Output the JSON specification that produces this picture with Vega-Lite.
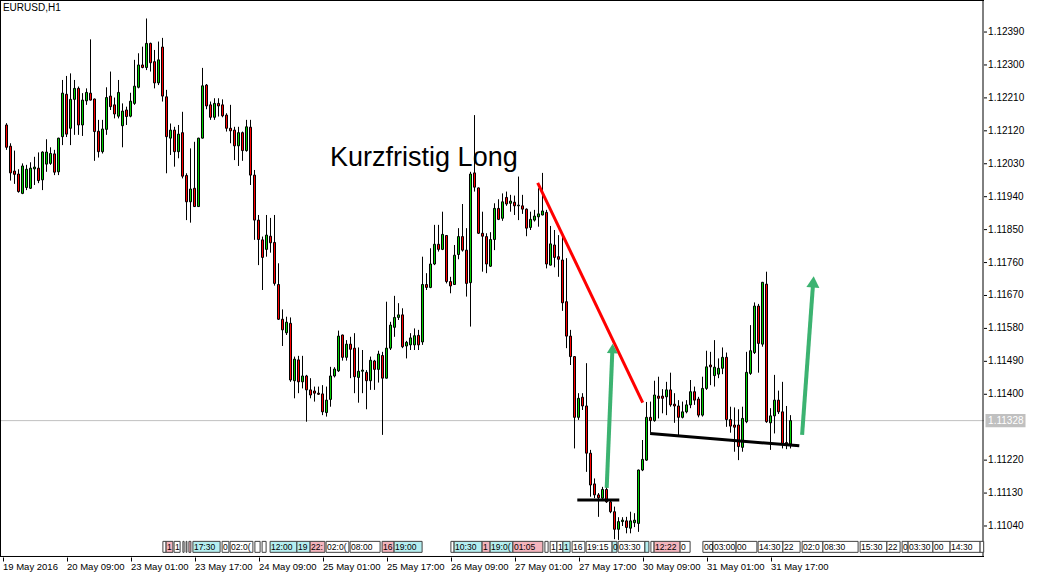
{
"$schema": "https://vega.github.io/schema/vega-lite/v6.json",
"width": 984,
"height": 557,
"autosize": {"type": "none"},
"padding": {"left": 0, "top": 0, "right": 55, "bottom": 21},
"background": "white",
"config": {
  "view": {"stroke": null},
  "font": "Liberation Sans",
  "scale": {"continuousPadding": 0},
  "axis": {"labelFont": "Liberation Sans", "labelColor": "#000000", "tickColor": "#000000", "domain": false, "grid": false, "labelOverlap": false}
},
"datasets": {
"candles": [
{"t":0,"o":1.12136,"h":1.12141,"l":1.12068,"c":1.12075},
{"t":1,"o":1.12078,"h":1.12086,"l":1.11984,"c":1.12005},
{"t":2,"o":1.12010,"h":1.12066,"l":1.11975,"c":1.12001},
{"t":3,"o":1.12002,"h":1.12015,"l":1.11951,"c":1.11954},
{"t":4,"o":1.11949,"h":1.12031,"l":1.11947,"c":1.12024},
{"t":5,"o":1.11965,"h":1.12027,"l":1.11958,"c":1.12015},
{"t":6,"o":1.11963,"h":1.12034,"l":1.11961,"c":1.12018},
{"t":7,"o":1.12016,"h":1.12049,"l":1.11972,"c":1.12021},
{"t":8,"o":1.12018,"h":1.12061,"l":1.11977,"c":1.11984},
{"t":9,"o":1.11986,"h":1.12064,"l":1.11958,"c":1.12062},
{"t":10,"o":1.12029,"h":1.12097,"l":1.12008,"c":1.12062},
{"t":11,"o":1.12031,"h":1.12075,"l":1.12027,"c":1.12058},
{"t":12,"o":1.12057,"h":1.12068,"l":1.11999,"c":1.12007},
{"t":13,"o":1.12008,"h":1.12101,"l":1.11999,"c":1.12100},
{"t":14,"o":1.12104,"h":1.12259,"l":1.12081,"c":1.12223},
{"t":15,"o":1.12220,"h":1.12270,"l":1.12103,"c":1.12111},
{"t":16,"o":1.12127,"h":1.12277,"l":1.12081,"c":1.12206},
{"t":17,"o":1.12206,"h":1.12259,"l":1.12109,"c":1.12236},
{"t":18,"o":1.12236,"h":1.12241,"l":1.12109,"c":1.12136},
{"t":19,"o":1.12136,"h":1.12223,"l":1.12106,"c":1.12204},
{"t":20,"o":1.12202,"h":1.12236,"l":1.12191,"c":1.12225},
{"t":21,"o":1.12223,"h":1.12370,"l":1.12203,"c":1.12204},
{"t":22,"o":1.12207,"h":1.12208,"l":1.12038,"c":1.12118},
{"t":23,"o":1.12119,"h":1.12150,"l":1.12047,"c":1.12063},
{"t":24,"o":1.12063,"h":1.12150,"l":1.12058,"c":1.12125},
{"t":25,"o":1.12124,"h":1.12239,"l":1.12109,"c":1.12211},
{"t":26,"o":1.12215,"h":1.12282,"l":1.12177,"c":1.12186},
{"t":27,"o":1.12191,"h":1.12211,"l":1.12154,"c":1.12166},
{"t":28,"o":1.12160,"h":1.12259,"l":1.12154,"c":1.12225},
{"t":29,"o":1.12134,"h":1.12195,"l":1.12075,"c":1.12174},
{"t":30,"o":1.12177,"h":1.12186,"l":1.12136,"c":1.12159},
{"t":31,"o":1.12160,"h":1.12224,"l":1.12157,"c":1.12201},
{"t":32,"o":1.12195,"h":1.12314,"l":1.12191,"c":1.12242},
{"t":33,"o":1.12239,"h":1.12332,"l":1.12236,"c":1.12300},
{"t":34,"o":1.12300,"h":1.12350,"l":1.12291,"c":1.12293},
{"t":35,"o":1.12293,"h":1.12427,"l":1.12286,"c":1.12359},
{"t":36,"o":1.12359,"h":1.12361,"l":1.12282,"c":1.12306},
{"t":37,"o":1.12309,"h":1.12341,"l":1.12236,"c":1.12251},
{"t":38,"o":1.12251,"h":1.12364,"l":1.12245,"c":1.12314},
{"t":39,"o":1.12349,"h":1.12374,"l":1.12200,"c":1.12215},
{"t":40,"o":1.12213,"h":1.12232,"l":1.12004,"c":1.12104},
{"t":41,"o":1.12100,"h":1.12140,"l":1.12054,"c":1.12122},
{"t":42,"o":1.12122,"h":1.12131,"l":1.12022,"c":1.12063},
{"t":43,"o":1.12063,"h":1.12136,"l":1.12045,"c":1.12111},
{"t":44,"o":1.12115,"h":1.12172,"l":1.11990,"c":1.11996},
{"t":45,"o":1.11998,"h":1.12004,"l":1.11876,"c":1.11926},
{"t":46,"o":1.11926,"h":1.12072,"l":1.11869,"c":1.11961},
{"t":47,"o":1.11963,"h":1.12090,"l":1.11912,"c":1.11913},
{"t":48,"o":1.11913,"h":1.12101,"l":1.11912,"c":1.12100},
{"t":49,"o":1.12100,"h":1.12292,"l":1.12099,"c":1.12243},
{"t":50,"o":1.12245,"h":1.12248,"l":1.12179,"c":1.12188},
{"t":51,"o":1.12191,"h":1.12200,"l":1.12150,"c":1.12157},
{"t":52,"o":1.12157,"h":1.12209,"l":1.12150,"c":1.12195},
{"t":53,"o":1.12195,"h":1.12209,"l":1.12159,"c":1.12188},
{"t":54,"o":1.12191,"h":1.12206,"l":1.12157,"c":1.12161},
{"t":55,"o":1.12163,"h":1.12168,"l":1.12118,"c":1.12127},
{"t":56,"o":1.12127,"h":1.12191,"l":1.12086,"c":1.12120},
{"t":57,"o":1.12122,"h":1.12131,"l":1.12040,"c":1.12079},
{"t":58,"o":1.12079,"h":1.12131,"l":1.12024,"c":1.12115},
{"t":59,"o":1.12115,"h":1.12118,"l":1.12038,"c":1.12066},
{"t":60,"o":1.12066,"h":1.12150,"l":1.12063,"c":1.12131},
{"t":61,"o":1.12130,"h":1.12150,"l":1.11972,"c":1.11999},
{"t":62,"o":1.11999,"h":1.12013,"l":1.11822,"c":1.11876},
{"t":63,"o":1.11876,"h":1.11890,"l":1.11753,"c":1.11823},
{"t":64,"o":1.11822,"h":1.11831,"l":1.11685,"c":1.11774},
{"t":65,"o":1.11796,"h":1.11890,"l":1.11776,"c":1.11835},
{"t":66,"o":1.11832,"h":1.11882,"l":1.11787,"c":1.11814},
{"t":67,"o":1.11815,"h":1.11890,"l":1.11697,"c":1.11703},
{"t":68,"o":1.11700,"h":1.11758,"l":1.11603,"c":1.11605},
{"t":69,"o":1.11605,"h":1.11632,"l":1.11532,"c":1.11576},
{"t":70,"o":1.11568,"h":1.11612,"l":1.11562,"c":1.11597},
{"t":71,"o":1.11594,"h":1.11610,"l":1.11434,"c":1.11439},
{"t":72,"o":1.11437,"h":1.11503,"l":1.11389,"c":1.11496},
{"t":73,"o":1.11494,"h":1.11505,"l":1.11403,"c":1.11434},
{"t":74,"o":1.11434,"h":1.11505,"l":1.11416,"c":1.11450},
{"t":75,"o":1.11450,"h":1.11453,"l":1.11325,"c":1.11412},
{"t":76,"o":1.11412,"h":1.11444,"l":1.11389,"c":1.11398},
{"t":77,"o":1.11409,"h":1.11421,"l":1.11380,"c":1.11403},
{"t":78,"o":1.11403,"h":1.11421,"l":1.11398,"c":1.11400},
{"t":79,"o":1.11401,"h":1.11425,"l":1.11343,"c":1.11352},
{"t":80,"o":1.11350,"h":1.11421,"l":1.11339,"c":1.11384},
{"t":81,"o":1.11386,"h":1.11475,"l":1.11366,"c":1.11450},
{"t":82,"o":1.11450,"h":1.11474,"l":1.11446,"c":1.11469},
{"t":83,"o":1.11464,"h":1.11574,"l":1.11461,"c":1.11559},
{"t":84,"o":1.11562,"h":1.11563,"l":1.11492,"c":1.11501},
{"t":85,"o":1.11501,"h":1.11548,"l":1.11492,"c":1.11537},
{"t":86,"o":1.11537,"h":1.11557,"l":1.11444,"c":1.11523},
{"t":87,"o":1.11526,"h":1.11567,"l":1.11403,"c":1.11448},
{"t":88,"o":1.11446,"h":1.11528,"l":1.11377,"c":1.11463},
{"t":89,"o":1.11463,"h":1.11521,"l":1.11403,"c":1.11466},
{"t":90,"o":1.11460,"h":1.11466,"l":1.11359,"c":1.11437},
{"t":91,"o":1.11437,"h":1.11503,"l":1.11412,"c":1.11493},
{"t":92,"o":1.11491,"h":1.11494,"l":1.11412,"c":1.11468},
{"t":93,"o":1.11468,"h":1.11519,"l":1.11432,"c":1.11510},
{"t":94,"o":1.11506,"h":1.11516,"l":1.11289,"c":1.11444},
{"t":95,"o":1.11444,"h":1.11653,"l":1.11443,"c":1.11526},
{"t":96,"o":1.11526,"h":1.11598,"l":1.11521,"c":1.11589},
{"t":97,"o":1.11583,"h":1.11669,"l":1.11557,"c":1.11610},
{"t":98,"o":1.11610,"h":1.11649,"l":1.11603,"c":1.11617},
{"t":99,"o":1.11617,"h":1.11635,"l":1.11526,"c":1.11530},
{"t":100,"o":1.11532,"h":1.11546,"l":1.11498,"c":1.11542},
{"t":101,"o":1.11535,"h":1.11567,"l":1.11521,"c":1.11554},
{"t":102,"o":1.11535,"h":1.11580,"l":1.11521,"c":1.11560},
{"t":103,"o":1.11561,"h":1.11576,"l":1.11521,"c":1.11535},
{"t":104,"o":1.11543,"h":1.11776,"l":1.11535,"c":1.11700},
{"t":105,"o":1.11700,"h":1.11731,"l":1.11685,"c":1.11692},
{"t":106,"o":1.11692,"h":1.11799,"l":1.11690,"c":1.11756},
{"t":107,"o":1.11756,"h":1.11863,"l":1.11753,"c":1.11810},
{"t":108,"o":1.11810,"h":1.11863,"l":1.11790,"c":1.11796},
{"t":109,"o":1.11796,"h":1.11899,"l":1.11794,"c":1.11837},
{"t":110,"o":1.11834,"h":1.11835,"l":1.11703,"c":1.11708},
{"t":111,"o":1.11708,"h":1.11721,"l":1.11676,"c":1.11696},
{"t":112,"o":1.11700,"h":1.11808,"l":1.11699,"c":1.11780},
{"t":113,"o":1.11782,"h":1.11854,"l":1.11769,"c":1.11831},
{"t":114,"o":1.11831,"h":1.11920,"l":1.11790,"c":1.11794},
{"t":115,"o":1.11794,"h":1.11854,"l":1.11667,"c":1.11703},
{"t":116,"o":1.11705,"h":1.12008,"l":1.11585,"c":1.12002},
{"t":117,"o":1.12005,"h":1.12163,"l":1.11954,"c":1.11966},
{"t":118,"o":1.11964,"h":1.11965,"l":1.11838,"c":1.11840},
{"t":119,"o":1.11840,"h":1.11899,"l":1.11735,"c":1.11832},
{"t":120,"o":1.11831,"h":1.11840,"l":1.11731,"c":1.11756},
{"t":121,"o":1.11750,"h":1.11843,"l":1.11748,"c":1.11823},
{"t":122,"o":1.11823,"h":1.11922,"l":1.11794,"c":1.11908},
{"t":123,"o":1.11908,"h":1.11933,"l":1.11876,"c":1.11878},
{"t":124,"o":1.11881,"h":1.11949,"l":1.11874,"c":1.11926},
{"t":125,"o":1.11938,"h":1.11954,"l":1.11915,"c":1.11920},
{"t":126,"o":1.11922,"h":1.11945,"l":1.11899,"c":1.11928},
{"t":127,"o":1.11925,"h":1.11943,"l":1.11890,"c":1.11915},
{"t":128,"o":1.11915,"h":1.11995,"l":1.11876,"c":1.11917},
{"t":129,"o":1.11915,"h":1.11945,"l":1.11893,"c":1.11906},
{"t":130,"o":1.11906,"h":1.11908,"l":1.11832,"c":1.11854},
{"t":131,"o":1.11856,"h":1.11899,"l":1.11849,"c":1.11878},
{"t":132,"o":1.11876,"h":1.11904,"l":1.11872,"c":1.11887},
{"t":133,"o":1.11885,"h":1.11963,"l":1.11858,"c":1.11893},
{"t":134,"o":1.11890,"h":1.12005,"l":1.11889,"c":1.11901},
{"t":135,"o":1.11897,"h":1.11904,"l":1.11744,"c":1.11756},
{"t":136,"o":1.11753,"h":1.11860,"l":1.11752,"c":1.11811},
{"t":137,"o":1.11808,"h":1.11849,"l":1.11747,"c":1.11774},
{"t":138,"o":1.11776,"h":1.11835,"l":1.11721,"c":1.11769},
{"t":139,"o":1.11767,"h":1.11831,"l":1.11628,"c":1.11650},
{"t":140,"o":1.11653,"h":1.11772,"l":1.11526,"c":1.11559},
{"t":141,"o":1.11559,"h":1.11576,"l":1.11480,"c":1.11503},
{"t":142,"o":1.11503,"h":1.11504,"l":1.11252,"c":1.11337},
{"t":143,"o":1.11337,"h":1.11403,"l":1.11330,"c":1.11389},
{"t":144,"o":1.11392,"h":1.11403,"l":1.11357,"c":1.11368},
{"t":145,"o":1.11368,"h":1.11485,"l":1.11188,"c":1.11239},
{"t":146,"o":1.11239,"h":1.11248,"l":1.11120,"c":1.11152},
{"t":147,"o":1.11155,"h":1.11170,"l":1.11116,"c":1.11125},
{"t":148,"o":1.11125,"h":1.11130,"l":1.11065,"c":1.11117},
{"t":149,"o":1.11116,"h":1.11147,"l":1.11111,"c":1.11140},
{"t":150,"o":1.11140,"h":1.11152,"l":1.11103,"c":1.11106},
{"t":151,"o":1.11106,"h":1.11111,"l":1.11075,"c":1.11079},
{"t":152,"o":1.11079,"h":1.11093,"l":1.11004,"c":1.11031},
{"t":153,"o":1.11031,"h":1.11064,"l":1.11002,"c":1.11052},
{"t":154,"o":1.11052,"h":1.11064,"l":1.11040,"c":1.11056},
{"t":155,"o":1.11054,"h":1.11065,"l":1.11020,"c":1.11036},
{"t":156,"o":1.11034,"h":1.11079,"l":1.11020,"c":1.11054},
{"t":157,"o":1.11049,"h":1.11075,"l":1.11037,"c":1.11056},
{"t":158,"o":1.11047,"h":1.11194,"l":1.11024,"c":1.11193},
{"t":159,"o":1.11193,"h":1.11275,"l":1.11190,"c":1.11222},
{"t":160,"o":1.11220,"h":1.11379,"l":1.11218,"c":1.11337},
{"t":161,"o":1.11337,"h":1.11380,"l":1.11295,"c":1.11328},
{"t":162,"o":1.11328,"h":1.11437,"l":1.11325,"c":1.11398},
{"t":163,"o":1.11395,"h":1.11448,"l":1.11334,"c":1.11389},
{"t":164,"o":1.11395,"h":1.11414,"l":1.11348,"c":1.11389},
{"t":165,"o":1.11393,"h":1.11434,"l":1.11343,"c":1.11412},
{"t":166,"o":1.11412,"h":1.11459,"l":1.11366,"c":1.11371},
{"t":167,"o":1.11373,"h":1.11403,"l":1.11322,"c":1.11368},
{"t":168,"o":1.11368,"h":1.11384,"l":1.11286,"c":1.11337},
{"t":169,"o":1.11337,"h":1.11380,"l":1.11334,"c":1.11352},
{"t":170,"o":1.11352,"h":1.11384,"l":1.11348,"c":1.11371},
{"t":171,"o":1.11371,"h":1.11439,"l":1.11362,"c":1.11407},
{"t":172,"o":1.11407,"h":1.11421,"l":1.11371,"c":1.11384},
{"t":173,"o":1.11387,"h":1.11393,"l":1.11337,"c":1.11343},
{"t":174,"o":1.11343,"h":1.11448,"l":1.11339,"c":1.11416},
{"t":175,"o":1.11416,"h":1.11519,"l":1.11412,"c":1.11475},
{"t":176,"o":1.11480,"h":1.11516,"l":1.11425,"c":1.11475},
{"t":177,"o":1.11451,"h":1.11548,"l":1.11421,"c":1.11474},
{"t":178,"o":1.11455,"h":1.11498,"l":1.11444,"c":1.11471},
{"t":179,"o":1.11471,"h":1.11528,"l":1.11455,"c":1.11501},
{"t":180,"o":1.11501,"h":1.11514,"l":1.11311,"c":1.11331},
{"t":181,"o":1.11331,"h":1.11366,"l":1.11295,"c":1.11313},
{"t":182,"o":1.11316,"h":1.11364,"l":1.11243,"c":1.11310},
{"t":183,"o":1.11316,"h":1.11359,"l":1.11220,"c":1.11257},
{"t":184,"o":1.11255,"h":1.11366,"l":1.11243,"c":1.11334},
{"t":185,"o":1.11325,"h":1.11516,"l":1.11321,"c":1.11460},
{"t":186,"o":1.11457,"h":1.11589,"l":1.11453,"c":1.11519},
{"t":187,"o":1.11514,"h":1.11651,"l":1.11510,"c":1.11641},
{"t":188,"o":1.11641,"h":1.11647,"l":1.11459,"c":1.11539},
{"t":189,"o":1.11537,"h":1.11707,"l":1.11530,"c":1.11706},
{"t":190,"o":1.11701,"h":1.11735,"l":1.11322,"c":1.11325},
{"t":191,"o":1.11322,"h":1.11362,"l":1.11248,"c":1.11341},
{"t":192,"o":1.11341,"h":1.11453,"l":1.11293,"c":1.11384},
{"t":193,"o":1.11384,"h":1.11410,"l":1.11346,"c":1.11352},
{"t":194,"o":1.11352,"h":1.11434,"l":1.11252,"c":1.11264},
{"t":195,"o":1.11268,"h":1.11368,"l":1.11250,"c":1.11264},
{"t":196,"o":1.11264,"h":1.11343,"l":1.11252,"c":1.11328}
],
"events": [
{"s":39.1,"e":39.9,"k":"white","txt":""},
{"s":39.9,"e":41.6,"k":"pink","txt":"1"},
{"s":41.9,"e":43.4,"k":"white","txt":"1"},
{"s":44.1,"e":44.4,"k":"white","txt":""},
{"s":44.9,"e":45.1,"k":"white","txt":""},
{"s":45.6,"e":46.1,"k":"pink","txt":""},
{"s":46.6,"e":53.4,"k":"cyan","txt":"17:30"},
{"s":53.9,"e":55.6,"k":"white","txt":"0"},
{"s":55.9,"e":61.6,"k":"white","txt":"02:0("},
{"s":62.1,"e":63.4,"k":"white","txt":""},
{"s":63.9,"e":64.9,"k":"white","txt":""},
{"s":65.9,"e":72.6,"k":"cyan","txt":"12:00"},
{"s":72.6,"e":75.9,"k":"cyan","txt":"19"},
{"s":75.9,"e":79.6,"k":"pink","txt":"22:"},
{"s":79.9,"e":85.6,"k":"white","txt":"02:0("},
{"s":85.9,"e":93.4,"k":"white","txt":"08:00"},
{"s":93.9,"e":96.9,"k":"pink","txt":"16"},
{"s":96.9,"e":103.9,"k":"cyan","txt":"19:00"},
{"s":111.1,"e":111.9,"k":"white","txt":""},
{"s":111.9,"e":118.9,"k":"cyan","txt":"10:30"},
{"s":118.9,"e":120.9,"k":"pink","txt":"1"},
{"s":120.9,"e":126.6,"k":"cyan","txt":"19:0("},
{"s":126.6,"e":134.1,"k":"pink","txt":"01:05"},
{"s":134.6,"e":135.4,"k":"white","txt":""},
{"s":135.9,"e":137.6,"k":"white","txt":"1"},
{"s":137.6,"e":139.1,"k":"white","txt":"1"},
{"s":139.1,"e":140.9,"k":"cyan","txt":"1"},
{"s":141.4,"e":144.6,"k":"white","txt":"16"},
{"s":144.9,"e":151.4,"k":"white","txt":"19:15"},
{"s":151.4,"e":152.6,"k":"cyan","txt":"0"},
{"s":152.9,"e":159.6,"k":"white","txt":"03:30"},
{"s":159.6,"e":160.6,"k":"cyan","txt":""},
{"s":161.1,"e":161.9,"k":"white","txt":""},
{"s":161.9,"e":168.4,"k":"pink","txt":"12:22"},
{"s":168.4,"e":170.9,"k":"white","txt":"0"},
{"s":174.1,"e":176.6,"k":"white","txt":"00"},
{"s":176.6,"e":182.4,"k":"white","txt":"03:00"},
{"s":182.4,"e":187.6,"k":"white","txt":"00"},
{"s":187.9,"e":194.1,"k":"white","txt":"14:30"},
{"s":194.1,"e":198.4,"k":"white","txt":"22"},
{"s":198.9,"e":204.1,"k":"white","txt":"02:0"},
{"s":204.1,"e":212.9,"k":"white","txt":"08:30"},
{"s":213.4,"e":220.1,"k":"white","txt":"15:30"},
{"s":220.1,"e":223.4,"k":"white","txt":"22"},
{"s":223.9,"e":225.4,"k":"white","txt":"0"},
{"s":225.4,"e":231.6,"k":"white","txt":"03:30"},
{"s":231.6,"e":235.9,"k":"white","txt":"00"},
{"s":235.9,"e":243.4,"k":"white","txt":"14:30"},
{"s":243.4,"e":244.3,"k":"white","txt":""}
],
"yticks": [
{"v":1.1239},{"v":1.1230},{"v":1.1221},{"v":1.1212},{"v":1.1203},{"v":1.1194},{"v":1.1185},{"v":1.1176},
{"v":1.1167},{"v":1.1158},{"v":1.1149},{"v":1.1140},{"v":1.1122},{"v":1.1113},{"v":1.1104}
]
},
"layer": [
{
  "data": {"values": [{"p": 1.11328}]},
  "mark": {"type": "rule", "color": "#c0c0c0", "strokeWidth": 1},
  "encoding": {"y": {"field": "p", "type": "quantitative", "title": null, "axis": null,
      "scale": {"domain": [1.1095527, 1.1247755], "nice": false, "zero": false, "padding": 0}}}
},
{
  "data": {"values": [{"v": -1.5}, {"v": 244.125}]},
  "mark": {"type": "rule", "color": "#000000", "strokeWidth": 1},
  "encoding": {"x": {"field": "v", "type": "quantitative", "title": null}}
},
{
  "data": {"values": [{"v": 1.1247618}, {"v": 1.1095664}]},
  "mark": {"type": "rule", "color": "#000000", "strokeWidth": 1},
  "encoding": {"y": {"field": "v", "type": "quantitative", "axis": null}}
},
{
  "data": {"name": "yticks"},
  "mark": {"type": "rule", "color": "#000000", "strokeWidth": 1},
  "encoding": {"x": {"datum": 244.375}, "x2": {"datum": 245.125}, "y": {"field": "v", "type": "quantitative", "axis": null}}
},
{
  "data": {"name": "yticks"},
  "mark": {"type": "text", "align": "left", "baseline": "middle", "fontSize": 10, "font": "Liberation Sans", "color": "#000000"},
  "encoding": {"x": {"datum": 245.4}, "y": {"field": "v", "type": "quantitative", "axis": null}, "text": {"field": "v", "type": "quantitative", "format": ".5f"}}
},
{
  "data": {"name": "candles"},
  "mark": {"type": "rule", "color": "#000000", "strokeWidth": 1},
  "encoding": {
    "x": {"field": "t", "type": "quantitative", "title": null,
      "scale": {"domain": [-1.625, 244.375], "nice": false, "zero": false, "padding": 0},
      "axis": {"orient": "bottom", "values": [-1,15,31,47,63,79,95,111,127,143,159,175,191],
        "labelExpr": "['19 May 2016','20 May 09:00','23 May 01:00','23 May 17:00','24 May 09:00','25 May 01:00','25 May 17:00','26 May 09:00','27 May 01:00','27 May 17:00','30 May 09:00','31 May 01:00','31 May 17:00'][(datum.value+1)/16]",
        "labelAlign": "left", "labelPadding": 0, "tickSize": 4, "labelFontSize": 9.5, "labelFlush": false, "labelOverlap": false, "labelBound": false}},
    "y": {"field": "l", "type": "quantitative", "title": null, "axis": null},
    "y2": {"field": "h"}
  }
},
{
  "data": {"name": "candles"},
  "mark": {"type": "bar", "size": 2, "stroke": "#000000", "strokeWidth": 1},
  "encoding": {
    "x": {"field": "t", "type": "quantitative"},
    "y": {"field": "o", "type": "quantitative", "axis": null},
    "y2": {"field": "c"},
    "fill": {"condition": {"test": "datum.c > datum.o", "value": "#00d000"}, "value": "#ff0000"}
  }
},
{
  "data": {"values": [{"t": 132.8, "p": 1.11978}, {"t": 159.05, "p": 1.11377}]},
  "mark": {"type": "line", "color": "#ff0000", "strokeWidth": 3},
  "encoding": {"x": {"field": "t", "type": "quantitative"}, "y": {"field": "p", "type": "quantitative", "axis": null}}
},
{
  "data": {"values": [
    {"g": "a", "t": 142.7, "p": 1.11111}, {"g": "a", "t": 153.2, "p": 1.11111},
    {"g": "b", "t": 160.9, "p": 1.11293}, {"g": "b", "t": 198.2, "p": 1.11259}]},
  "mark": {"type": "line", "color": "#000000", "strokeWidth": 3},
  "encoding": {"x": {"field": "t", "type": "quantitative"}, "y": {"field": "p", "type": "quantitative", "axis": null}, "detail": {"field": "g"}}
},
{
  "data": {"values": [
    {"g": "a", "t": 150.05, "p": 1.11144}, {"g": "a", "t": 151.45, "p": 1.11516},
    {"g": "b", "t": 198.9, "p": 1.11289}, {"g": "b", "t": 201.6, "p": 1.11696}]},
  "mark": {"type": "line", "color": "#3cb371", "strokeWidth": 4},
  "encoding": {"x": {"field": "t", "type": "quantitative"}, "y": {"field": "p", "type": "quantitative", "axis": null}, "detail": {"field": "g"}}
},
{
  "data": {"values": [{"t": 151.5, "p": 1.11525, "a": 2, "s": 120}, {"t": 201.7, "p": 1.11707, "a": 4, "s": 170}]},
  "mark": {"type": "point", "shape": "triangle-up", "filled": true, "color": "#3cb371", "opacity": 1},
  "encoding": {"x": {"field": "t", "type": "quantitative"}, "y": {"field": "p", "type": "quantitative", "axis": null},
    "angle": {"field": "a", "type": "quantitative", "scale": null},
    "size": {"field": "s", "type": "quantitative", "scale": null}}
},
{
  "data": {"values": [{"t": 80.9, "p": 1.12024, "txt": "Kurzfristig Long"}]},
  "mark": {"type": "text", "align": "left", "baseline": "alphabetic", "fontSize": 27, "font": "Liberation Sans", "color": "#000000"},
  "encoding": {"x": {"field": "t", "type": "quantitative"}, "y": {"field": "p", "type": "quantitative", "axis": null}, "text": {"field": "txt"}}
},
{
  "data": {"values": [{"txt": "EURUSD,H1"}]},
  "mark": {"type": "text", "align": "left", "baseline": "middle", "fontSize": 10, "font": "Liberation Sans", "color": "#000000"},
  "encoding": {"x": {"datum": -0.9}, "y": {"datum": 1.12455, "axis": null}, "text": {"field": "txt"}}
},
{
  "data": {"name": "events"},
  "mark": {"type": "rect", "stroke": "#404040", "strokeWidth": 1},
  "encoding": {
    "x": {"field": "s", "type": "quantitative"}, "x2": {"field": "e"},
    "y": {"datum": 1.10998, "axis": null}, "y2": {"datum": 1.10968},
    "fill": {"field": "k", "type": "nominal", "legend": null, "scale": {"domain": ["white", "pink", "cyan"], "range": ["#ffffff", "#f4b4bc", "#b4eef0"]}}
  }
},
{
  "data": {"name": "events"},
  "mark": {"type": "text", "align": "left", "baseline": "middle", "fontSize": 8.5, "font": "Liberation Sans", "color": "#000000", "dx": 1},
  "encoding": {"x": {"field": "s", "type": "quantitative"}, "y": {"datum": 1.10983, "axis": null}, "text": {"field": "txt"}}
},
{
  "data": {"values": [{"txt": "1.11328"}]},
  "mark": {"type": "rect", "fill": "#c0c0c0"},
  "encoding": {"x": {"datum": 244.75}, "x2": {"datum": 254.75}, "y": {"datum": 1.113458, "axis": null}, "y2": {"datum": 1.113102}}
},
{
  "data": {"values": [{"txt": "1.11328"}]},
  "mark": {"type": "text", "align": "left", "baseline": "middle", "fontSize": 10, "font": "Liberation Sans", "color": "#ffffff"},
  "encoding": {"x": {"datum": 245.4}, "y": {"datum": 1.11328, "axis": null}, "text": {"field": "txt"}}
}
]
}
